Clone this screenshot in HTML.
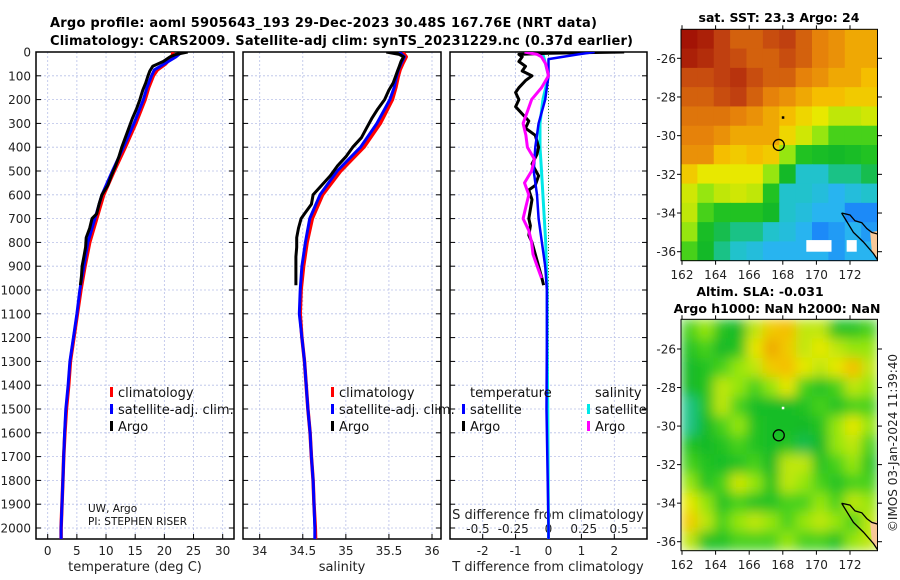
<!DOCTYPE html>
<html><head><meta charset="utf-8"><style>
html,body{margin:0;padding:0;background:#fff;}
svg{display:block;font-family:"DejaVu Sans","Liberation Sans",sans-serif;}
</style></head><body>
<svg id="fig" width="900" height="580" viewBox="0 0 900 580" xmlns="http://www.w3.org/2000/svg">
<defs>
<filter id="blur" x="0" y="0" width="1" height="1"><feGaussianBlur stdDeviation="6"/></filter>
<clipPath id="cp1"><rect x="36" y="52" width="198" height="487"/></clipPath>
<clipPath id="cp2"><rect x="243" y="52" width="198" height="487"/></clipPath>
<clipPath id="cp3"><rect x="450" y="52" width="197" height="487"/></clipPath>
<clipPath id="cm1"><rect x="681" y="29.3" width="196.5" height="231.4"/></clipPath>
<clipPath id="cm2"><rect x="681" y="319.3" width="196.5" height="231.4"/></clipPath>
</defs>
<text x="50" y="27" font-size="13" font-weight="bold" textLength="547">Argo profile: aoml 5905643_193 29-Dec-2023 30.48S 167.76E (NRT data)</text>
<text x="50" y="45" font-size="13" font-weight="bold" textLength="583">Climatology: CARS2009. Satellite-adj clim: synTS_20231229.nc (0.37d earlier)</text>
<g id="g"></g>
</svg>
<script>
// ---- data ----
const depthClim = [0,20,50,75,100,150,200,300,400,500,600,700,800,900,1000,1100,1200,1300,1400,1500,1600,1700,1800,1900,2000,2060];
const tempClim  = [21.5,21.3,20.2,18.8,18.1,17.3,16.7,15.1,13.3,11.4,9.6,8.4,7.2,6.4,5.7,5.1,4.5,3.9,3.6,3.2,2.95,2.75,2.6,2.45,2.3,2.3];
const tempSat   = [23.0,22.0,20.0,18.3,17.8,17.0,16.4,14.8,13.0,11.1,9.3,8.1,6.9,6.2,5.5,5.0,4.4,3.8,3.5,3.1,2.9,2.75,2.6,2.45,2.3,2.3];
const salClim   = [35.66,35.70,35.66,35.63,35.61,35.58,35.54,35.40,35.21,34.94,34.73,34.61,34.55,34.51,34.48,34.47,34.49,34.52,34.54,34.56,34.585,34.60,34.62,34.63,34.645,34.65];
const salSat    = [35.62,35.68,35.64,35.61,35.59,35.56,35.51,35.36,35.17,34.90,34.70,34.58,34.53,34.49,34.47,34.46,34.49,34.52,34.54,34.56,34.585,34.60,34.62,34.63,34.64,34.64];
const depthArgo = [0,10,20,40,60,80,100,130,160,200,240,280,320,360,400,440,480,520,560,600,640,680,700,740,780,820,860,900,940,980];
const tempArgo  = [24.0,22.0,21.0,19.8,18.0,17.5,17.2,16.8,16.3,15.8,15.2,14.5,13.9,13.3,12.7,12.2,11.6,10.9,10.3,9.3,8.8,8.4,7.6,7.2,6.6,6.5,6.2,5.9,5.8,5.6];
const salArgo   = [35.47,35.62,35.67,35.64,35.62,35.60,35.58,35.55,35.50,35.45,35.37,35.30,35.24,35.18,35.08,35.00,34.90,34.82,34.72,34.62,34.60,34.52,34.48,34.45,34.43,34.43,34.42,34.42,34.42,34.42];
const depthDT   = [0,5,10,20,40,60,80,100,120,150,170,200,230,260,290,320,350,400,430,470,520,560,580,620,660,700,730,770,800,850,900,950,980];
const dTArgo    = [2.3,0.0,-0.9,-0.8,-0.9,-0.7,-0.8,-0.5,-0.7,-0.9,-1.0,-0.9,-1.0,-0.8,-0.6,-0.7,-0.4,-0.3,-0.35,-0.5,-0.3,-0.4,-0.6,-0.5,-0.55,-0.6,-0.55,-0.6,-0.5,-0.4,-0.3,-0.2,-0.15];
const depthDS   = [0,10,20,50,100,150,200,250,300,350,400,450,500,550,600,650,700,750,800,850,900,950];
const dSArgo    = [-0.17,-0.08,-0.05,-0.02,0.0,-0.05,-0.12,-0.15,-0.18,-0.16,-0.15,-0.10,-0.12,-0.17,-0.14,-0.16,-0.18,-0.14,-0.12,-0.11,-0.08,-0.05];
const depthSat  = [0,10,30,100,200,300,400,500,600,700,800,900,1000,1200,1500,2000,2060];
const dTSat     = [1.4,0.9,0.0,0.0,-0.1,-0.3,-0.4,-0.45,-0.35,-0.3,-0.2,-0.1,-0.05,-0.05,-0.06,0.0,0.0];
const dSSat     = [-0.05,-0.04,-0.03,0.0,-0.04,-0.06,-0.06,-0.05,-0.04,-0.03,-0.02,-0.015,-0.01,-0.01,-0.005,0.0,0.0];
const depthTicks = [0,100,200,300,400,500,600,700,800,900,1000,1100,1200,1300,1400,1500,1600,1700,1800,1900,2000];
const tTicks = [0,5,10,15,20,25,30];
const sTicks = [34,34.5,35,35.5,36];
const sTickLabels = ["34","34.5","35","35.5","36"];
const dtTicks = [-2,-1,0,1,2];
const dsTicks = [-0.5,-0.25,0,0.25,0.5];
const dsTickLabels = ["-0.5","-0.25","0","0.25","0.5"];
const latTicks = [-26,-28,-30,-32,-34,-36];
const lonTicks = [162,164,166,168,170,172];
const sstGrid = [
[.97,.95,.9,.85,.85,.88,.9,.85,.8,.78,.75,.75],
[.95,.93,.9,.88,.85,.85,.88,.85,.8,.78,.75,.75],
[.88,.88,.9,.92,.88,.85,.85,.8,.78,.75,.75,.72],
[.85,.85,.88,.9,.85,.8,.78,.75,.72,.72,.7,.7],
[.82,.82,.82,.8,.78,.75,.72,.68,.65,.6,.6,.62],
[.8,.8,.78,.75,.75,.75,.68,.62,.55,.5,.5,.5],
[.78,.78,.72,.7,.72,.7,.55,.45,.42,.4,.42,.45],
[.7,.65,.65,.65,.65,.55,.4,.3,.3,.35,.35,.38],
[.62,.55,.6,.62,.6,.45,.3,.3,.28,.25,.28,.3],
[.6,.5,.45,.45,.45,.4,.3,.28,.25,.25,.2,.2],
[.55,.42,.38,.35,.35,.3,.28,.25,.2,.22,.25,.22],
[.5,.4,.35,.3,.28,.25,.25,.25,.25,.22,.25,.25]];
const slaGrid = [
[.5,.55,.45,.4,.6,.7,.72,.6,.6,.45,.45,.5],
[.45,.5,.4,.45,.65,.75,.7,.6,.65,.6,.55,.55],
[.4,.45,.5,.55,.6,.7,.72,.65,.6,.65,.72,.6],
[.4,.45,.6,.55,.5,.55,.65,.5,.45,.5,.6,.55],
[.35,.45,.6,.5,.42,.42,.42,.45,.5,.45,.5,.5],
[.35,.4,.5,.55,.45,.42,.42,.4,.45,.55,.65,.55],
[.45,.4,.45,.5,.45,.42,.45,.38,.4,.55,.6,.5],
[.5,.45,.42,.45,.5,.4,.6,.6,.45,.5,.55,.45],
[.55,.45,.5,.62,.55,.45,.6,.55,.5,.45,.5,.5],
[.65,.55,.45,.5,.45,.45,.5,.5,.55,.5,.6,.55],
[.7,.6,.5,.55,.6,.55,.5,.55,.6,.55,.5,.6],
[.6,.45,.45,.5,.5,.5,.55,.5,.5,.45,.55,.6]];
const coastLon = [171.5,172.0,172.3,172.7,173.0,173.3,173.7,173.7,173.4,172.8,172.2,171.5];
const coastLat = [-34.0,-34.1,-34.4,-34.5,-34.8,-35.0,-35.1,-36.5,-36.1,-35.5,-35.0,-34.0];
const argoLon = 167.76, argoLat = -30.48;

// ---- helpers ----
const NS="http://www.w3.org/2000/svg";
const G=document.getElementById('g');
function el(tag, attrs, parent){const e=document.createElementNS(NS,tag);for(const k in attrs)e.setAttribute(k,attrs[k]);(parent||G).appendChild(e);return e;}
function txt(x,y,s,attrs,parent){const e=el('text',Object.assign({x:x,y:y},attrs||{}),parent);e.textContent=s;return e;}
const yD = d => 52 + d*0.238;
const x1 = t => 47.7 + t*5.833;
const x2 = s => 259.7 + (s-34)*86.15;
const x3T = t => 548.5 + t*32.9;
const x3S = s => 548.5 + s*141;
const panels=[{x:36,w:198,cp:'cp1',name:'temperature-panel'},{x:243,w:198,cp:'cp2',name:'salinity-panel'},{x:450,w:197,cp:'cp3',name:'difference-panel'}];

panels.forEach((p,i)=>{
  const g=el('g',{});
  
  
  depthTicks.forEach(d=>{
    el('line',{x1:p.x,x2:p.x+p.w,y1:yD(d),y2:yD(d),stroke:'#b8c0e8','stroke-width':0.8,'stroke-dasharray':'2,2'},g);
    el('line',{x1:p.x,x2:p.x+5,y1:yD(d),y2:yD(d),stroke:'#000','stroke-width':1},g);
    el('line',{x1:p.x+p.w-5,x2:p.x+p.w,y1:yD(d),y2:yD(d),stroke:'#000','stroke-width':1},g);
  });
  let xs = i==0? tTicks.map(x1) : i==1? sTicks.map(x2) : dtTicks.map(x3T);
  xs.forEach(x=>{
    el('line',{x1:x,x2:x,y1:52,y2:539,stroke:'#b8c0e8','stroke-width':0.8,'stroke-dasharray':'2,2'},g);
    el('line',{x1:x,x2:x,y1:534,y2:539,stroke:'#000','stroke-width':1},g);
  });
  el('rect',{x:p.x,y:52,width:p.w,height:487,fill:'none',stroke:'#000','stroke-width':1.5},g);
});
depthTicks.forEach(d=>{
  const t=txt(31,yD(d)+4.5,String(d),{'font-size':12,'text-anchor':'end',fill:'#222'});
  
  
});
tTicks.forEach(t=>{const e=txt(x1(t),555,String(t),{'font-size':12,'text-anchor':'middle',fill:'#222'});
  
  });
sTicks.forEach((s,i)=>{const e=txt(x2(s),555,sTickLabels[i],{'font-size':12,'text-anchor':'middle',fill:'#222'});
  
  });
dtTicks.forEach(t=>{const e=txt(x3T(t),555,String(t),{'font-size':12,'text-anchor':'middle',fill:'#222'});
  
  });
dsTicks.forEach((s,i)=>{const e=txt(x3S(s),533,dsTickLabels[i],{'font-size':12,'text-anchor':'middle',fill:'#222'});
  
  });
let a;
a=txt(135,571,'temperature (deg C)',{'font-size':13,'text-anchor':'middle',fill:'#222'});


a=txt(342,571,'salinity',{'font-size':13,'text-anchor':'middle',fill:'#222'});


a=txt(548,571,'T difference from climatology',{'font-size':13,'text-anchor':'middle',fill:'#222'});


a=txt(548,519,'S difference from climatology',{'font-size':13,'text-anchor':'middle',fill:'#222'});


el('line',{x1:x3T(0),x2:x3T(0),y1:52,y2:539,stroke:'#2a8a2a','stroke-width':1,'stroke-dasharray':'1,2'});

function series(depths, vals, fx, color, w, cp, name){
  const pts=depths.map((d,i)=>fx(vals[i]).toFixed(1)+','+yD(d).toFixed(1)).join(' ');
  const p=el('polyline',{points:pts,fill:'none',stroke:color,'stroke-width':w,'stroke-linejoin':'round','clip-path':'url(#'+cp+')'});
  
  
}
series(depthClim,tempClim,x1,'#f00',3.5,'cp1','temp-climatology-line');
series(depthClim,tempSat,x1,'#00f',3,'cp1','temp-satellite-line');
series(depthArgo,tempArgo,x1,'#000',3,'cp1','temp-argo-line');
series(depthClim,salClim,x2,'#f00',3.5,'cp2','sal-climatology-line');
series(depthClim,salSat,x2,'#00f',3,'cp2','sal-satellite-line');
series(depthArgo,salArgo,x2,'#000',3,'cp2','sal-argo-line');
series(depthSat,dSSat,x3S,'#00e8e8',3,'cp3','s-diff-satellite-line');
series(depthDT,dTArgo,x3T,'#000',3,'cp3','t-diff-argo-line');
series(depthSat,dTSat,x3T,'#00f',2.5,'cp3','t-diff-satellite-line');
series(depthDS,dSArgo,x3S,'#f0f',3,'cp3','s-diff-argo-line');

function legItem(x,y,color,label,name){
  const g=el('g',{});
  
  
  el('rect',{x:x,y:y-10,width:3,height:10,fill:color},g);
  txt(x+8,y,label,{'font-size':13,fill:'#111'},g);
}
[[110,'legend-1'],[331,'legend-2']].forEach(([lx,n])=>{
  legItem(lx,397,'#f00','climatology',n+'-climatology');
  legItem(lx,414,'#00f','satellite-adj. clim.',n+'-satellite');
  legItem(lx,431,'#000','Argo',n+'-argo');
});
a=txt(470,397,'temperature',{'font-size':13,fill:'#111'});


a=txt(595,397,'salinity',{'font-size':13,fill:'#111'});


legItem(462,414,'#00f','satellite','legend-3-t-satellite');
legItem(462,431,'#000','Argo','legend-3-t-argo');
legItem(587,414,'#00e8e8','satellite','legend-3-s-satellite');
legItem(587,431,'#f0f','Argo','legend-3-s-argo');
a=txt(88,512,'UW, Argo',{'font-size':10.5,fill:'#111'});


a=txt(88,525,'PI: STEPHEN RISER',{'font-size':10.5,fill:'#111'});



// ---- maps ----
const stops=[[0,[0,0,160]],[0.15,[16,96,255]],[0.25,[40,180,240]],[0.32,[30,200,190]],[0.4,[20,185,40]],[0.48,[40,200,30]],[0.55,[150,230,16]],[0.65,[232,232,0]],[0.72,[245,190,0]],[0.8,[230,130,10]],[0.9,[192,64,16]],[1,[150,0,0]]];
function cmap(v){for(let i=1;i<stops.length;i++){if(v<=stops[i][0]){const [a0,c0]=stops[i-1],[a1,c1]=stops[i];const f=(v-a0)/(a1-a0);return 'rgb('+c0.map((c,k)=>Math.round(c+(c1[k]-c)*f)).join(',')+')';}}return 'rgb(150,0,0)';}
const maps=[{top:29.3,h:231.4,y26:58.3,py:19.34,grid:sstGrid,cp:'cm1',blur:false,name:'sst-map'},
            {top:319.3,h:231.4,y26:349,py:19.27,grid:slaGrid,cp:'cm2',blur:true,name:'sla-map'}];
const lonX = lon => 682 + (lon-162)*16.8;
maps.forEach(m=>{
  const latY = lat => m.y26 + (-26-lat)*m.py;
  const g=el('g',{'clip-path':'url(#'+m.cp+')'});
  
  
  const inner=el('g',m.blur?{filter:'url(#blur)'}:{},g);
  const rows=m.grid.length, cols=m.grid[0].length;
  const cw=196.5/cols, ch=m.h/rows;
  if(m.blur) el('rect',{x:681,y:m.top,width:197,height:m.h,fill:cmap(0.5)},inner);
  m.grid.forEach((row,r)=>row.forEach((v,c)=>{
    const cell=el('rect',{x:681+c*cw,y:m.top+r*ch,width:cw+0.6,height:ch+0.6,fill:cmap(v)},inner);
    
    
  }));
  if(!m.blur){
    el('rect',{x:lonX(169.4),y:latY(-35.4),width:lonX(170.9)-lonX(169.4),height:latY(-36.0)-latY(-35.4),fill:'#fff'},g);
    el('rect',{x:lonX(171.8),y:latY(-35.4),width:lonX(172.4)-lonX(171.8),height:latY(-36.0)-latY(-35.4),fill:'#fff'},g);
  }
  const cpts=coastLon.map((lo,i)=>lonX(lo).toFixed(1)+','+latY(coastLat[i]).toFixed(1)).join(' ');
  el('polygon',{points:lonX(173.2)+','+latY(-35.0)+' '+lonX(173.8)+','+latY(-34.9)+' '+lonX(173.8)+','+latY(-36.5)+' '+lonX(173.3)+','+latY(-36.0),fill:'#f8c898'},g);
  const cl=el('polyline',{points:cpts,fill:'none',stroke:'#000','stroke-width':1.3},g);
  
  
  el('rect',{x:lonX(168)-1,y:latY(-29.05)-1,width:2.5,height:2.5,fill:m.blur?'#fff':'#000'},g);
  const c=el('circle',{cx:lonX(argoLon),cy:latY(argoLat),r:5.5,fill:'none',stroke:'#000','stroke-width':1.3});
  
  
  el('rect',{x:681,y:m.top,width:196.5,height:m.h,fill:'none',stroke:'#000','stroke-width':1});
  latTicks.forEach(l=>{
    el('line',{x1:877.5,x2:882,y1:latY(l),y2:latY(l),stroke:'#000'});
    el('line',{x1:677,x2:681,y1:latY(l),y2:latY(l),stroke:'#000'});
    const t=txt(676,latY(l)+4.5,String(l),{'font-size':12,'text-anchor':'end',fill:'#222'});
    
    
  });
  lonTicks.forEach(l=>{
    el('line',{x1:lonX(l),x2:lonX(l),y1:m.top+m.h,y2:m.top+m.h+4,stroke:'#000'});
    el('line',{x1:lonX(l),x2:lonX(l),y1:m.top-4,y2:m.top,stroke:'#000'});
    const t=txt(lonX(l),m.top+m.h+18.5,String(l),{'font-size':12,'text-anchor':'middle',fill:'#222'});
    
    
  });
});
a=txt(779,22,'sat. SST: 23.3 Argo: 24',{'font-size':12.5,'font-weight':'bold','text-anchor':'middle'});


a=txt(760,296,'Altim. SLA: -0.031',{'font-size':12.5,'font-weight':'bold','text-anchor':'middle'});


a=txt(777,313,'Argo h1000: NaN h2000: NaN',{'font-size':12.5,'font-weight':'bold','text-anchor':'middle'});


a=txt(0,0,'©IMOS 03-Jan-2024 11:39:40',{'font-size':12,'text-anchor':'middle',fill:'#222',transform:'translate(897,443) rotate(-90)'});


</script>
</body></html>
